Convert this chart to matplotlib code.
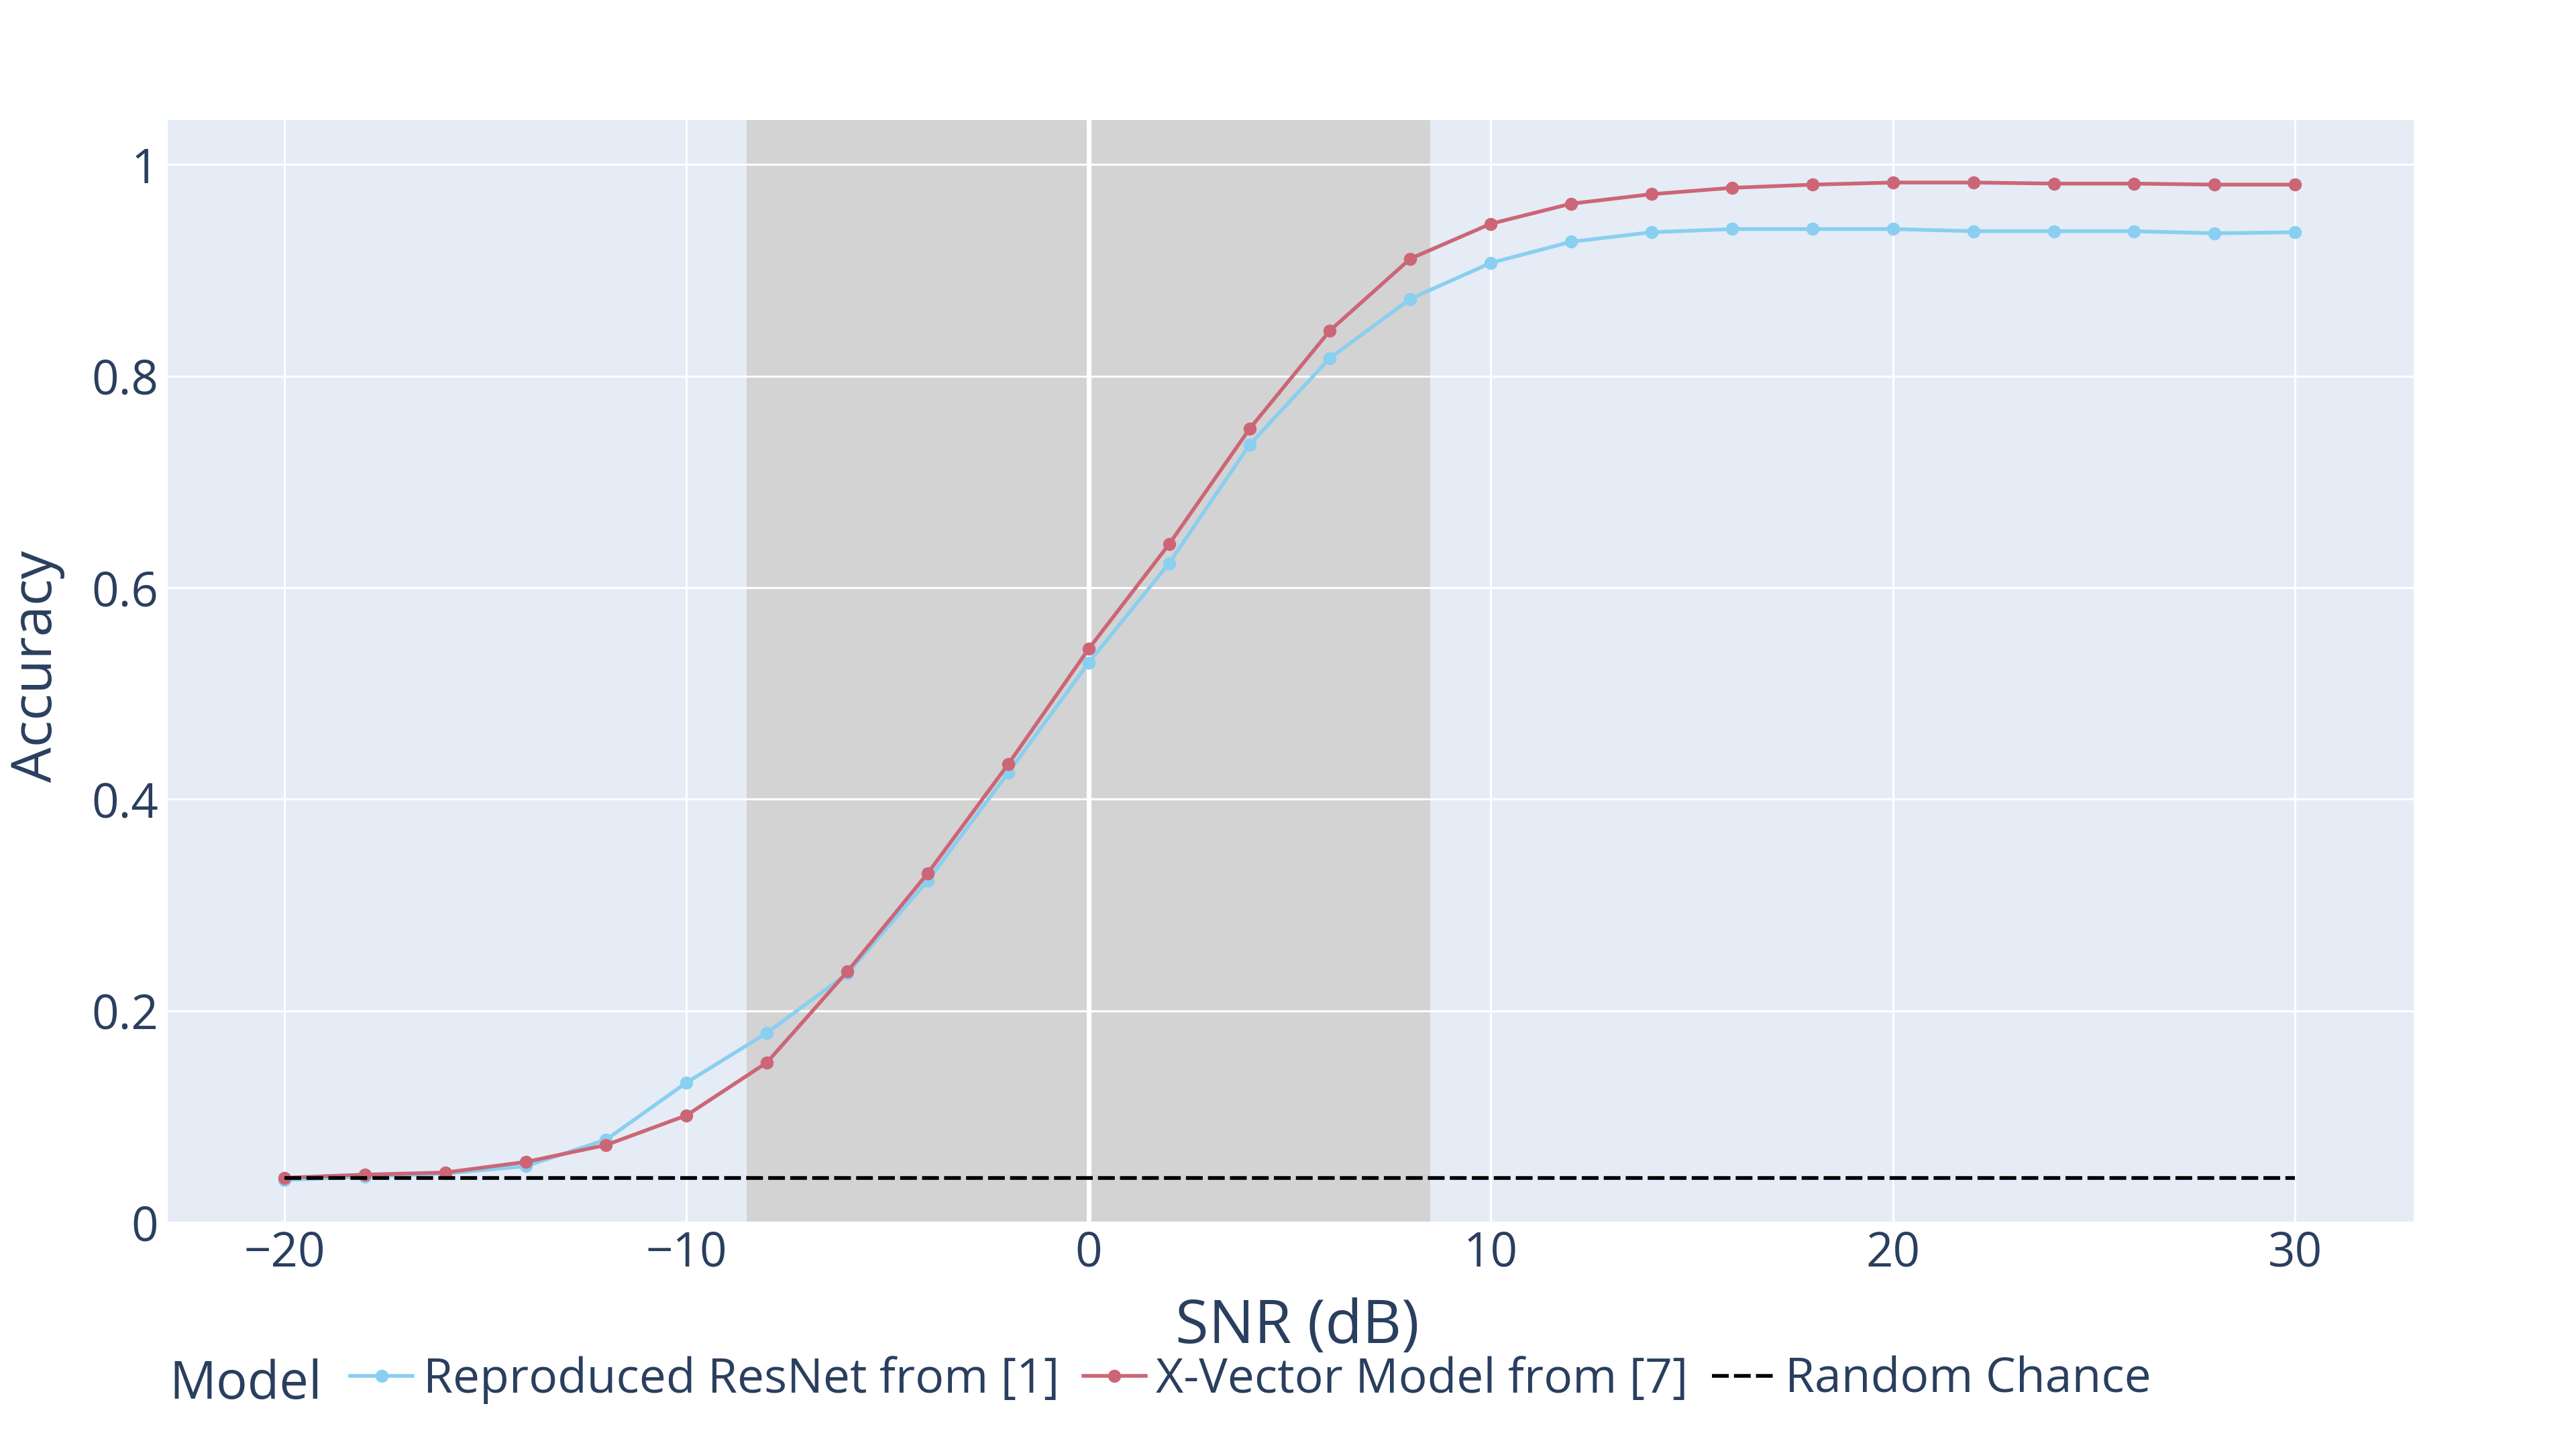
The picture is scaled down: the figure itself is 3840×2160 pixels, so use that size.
import matplotlib
matplotlib.use("Agg")
import matplotlib.pyplot as plt
from matplotlib.lines import Line2D

# SNR values (dB)
snr = [-20, -18, -16, -14, -12, -10, -8, -6, -4, -2, 0, 2, 4,
       6, 8, 10, 12, 14, 16, 18, 20, 22, 24, 26, 28, 30]

# accuracy of the two models
resnet_acc = [0.040, 0.043, 0.046, 0.053, 0.078, 0.132, 0.179, 0.235, 0.323,
              0.425, 0.529, 0.623, 0.735, 0.817, 0.873, 0.907, 0.927, 0.936,
              0.939, 0.939, 0.939, 0.937, 0.937, 0.937, 0.935, 0.936]
xvector_acc = [0.042, 0.045, 0.047, 0.057, 0.073, 0.101, 0.151, 0.237, 0.330,
               0.433, 0.542, 0.641, 0.750, 0.843, 0.911, 0.944, 0.963, 0.972,
               0.978, 0.981, 0.983, 0.983, 0.982, 0.982, 0.981, 0.981]
random_chance = 1 / 24

shade_range = (-8.5, 8.5)

series_labels = ["Reproduced ResNet from [1]", "X-Vector Model from [7]", "Random Chance"]
x_ticks = [-20, -10, 0, 10, 20, 30]
y_ticks = [0, 0.2, 0.4, 0.6, 0.8, 1]
y_tick_labels = ["0", "0.2", "0.4", "0.6", "0.8", "1"]

TEXT = "#2a3f5f"
BLUE = "#89CFF0"
RED = "#CC6677"
LW = 2.0
MS = 6.0
DASH = (4.5, 1.4)

plt.rcParams["font.family"] = ["Open Sans", "DejaVu Sans"]

fig = plt.figure(figsize=(19.2, 10.8), dpi=200)
ax = fig.add_axes([0.0651, 0.1565, 0.8719, 0.7606])
ax.set_facecolor("#E5ECF6")
for s in ax.spines.values():
    s.set_visible(False)

# gray band below the grid
ax.axvspan(*shade_range, color="#D3D3D3", zorder=0.5, lw=0)
ax.set_axisbelow(False)
ax.grid(True, color="white", lw=1.1, zorder=1)
ax.axvline(0, color="white", lw=2.6, zorder=1.1)

ax.plot(snr, resnet_acc, color=BLUE, lw=LW, marker="o", ms=MS, zorder=3)
ax.plot(snr, xvector_acc, color=RED, lw=LW, marker="o", ms=MS, zorder=3.1)
ax.plot([snr[0], snr[-1]], [random_chance, random_chance], color="black",
        lw=LW, dashes=DASH, zorder=3.2)

ax.set_xlim(-22.9, 32.95)
ax.set_ylim(0, 1.042)
ax.set_xticks(x_ticks)
ax.set_yticks(y_ticks)
ax.set_yticklabels(y_tick_labels)
ax.tick_params(length=0, labelsize=25.5, colors=TEXT)
ax.tick_params(axis="y", pad=5)
ax.tick_params(axis="x", pad=4)

fig.text(0.5035, 0.084, "SNR (dB)", ha="center", va="center", fontsize=32.5, color=TEXT)
fig.text(0.0145, 0.54, "Accuracy", ha="center", va="center", rotation=90,
         fontsize=30, color=TEXT)

# horizontal legend with the title on the left
fig.text(0.0657, 0.044, "Model", ha="left", va="center", fontsize=28, color=TEXT)
handles = [
    Line2D([], [], color=BLUE, lw=LW, marker="o", ms=MS),
    Line2D([], [], color=RED, lw=LW, marker="o", ms=MS),
    Line2D([], [], color="black", lw=LW, dashes=DASH),
]
leg = fig.legend(handles, series_labels, loc="center left",
                 bbox_to_anchor=(0.136, 0.0477), ncol=3, frameon=False,
                 fontsize=25.7, handlelength=1.3, handletextpad=0.22,
                 columnspacing=0.5, borderpad=0, borderaxespad=0)
for t in leg.get_texts():
    t.set_color(TEXT)

fig.savefig("out.png", dpi=200, facecolor="white")
